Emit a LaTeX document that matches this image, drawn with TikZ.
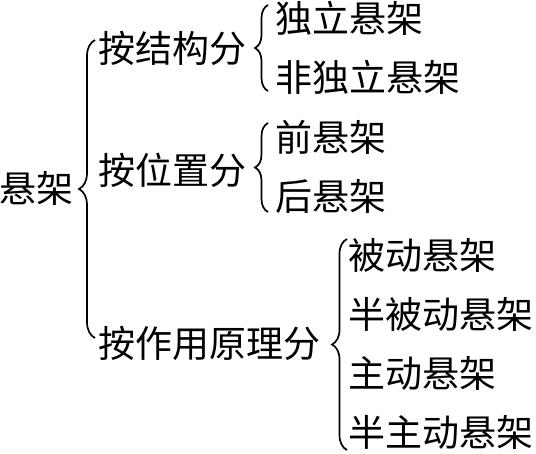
\documentclass[tikz,border=0pt]{standalone}
\usepackage{fontspec}
\newfontfamily\cjk{Noto Sans CJK SC}
\usetikzlibrary{decorations.pathreplacing}
\tikzset{
  lbl/.style={anchor=base west, inner sep=0pt, font=\cjk\fontsize{37}{37}\selectfont},
  brc/.style={draw, line width=1.7pt, decorate, decoration={brace, amplitude=#1, aspect=0.5}},
}
\begin{document}
\begin{tikzpicture}[x=1pt, y=-1pt]
\useasboundingbox (0,0) rectangle (536,453);
% text nodes (baseline = ink centre + 14)
\node[lbl] (root) at (-1,202) {悬架};
\node[lbl] (a) at (98,62) {按结构分};
\node[lbl] (b) at (98,184) {按位置分};
\node[lbl] (c) at (98,357) {按作用原理分};
\node[lbl] (a1) at (275,32) {独立悬架};
\node[lbl] (a2) at (275,91) {非独立悬架};
\node[lbl] (b1) at (275,151) {前悬架};
\node[lbl] (b2) at (275,210) {后悬架};
\node[lbl] (c1) at (348,269) {被动悬架};
\node[lbl] (c2) at (348,328) {半被动悬架};
\node[lbl] (c3) at (348,387) {主动悬架};
\node[lbl] (c4) at (348,446) {半主动悬架};
% brace end points
\coordinate (B0t) at (95,40);
\coordinate (B0b) at (95,338);
\coordinate (B1t) at (268,5);
\coordinate (B1b) at (268,91);
\coordinate (B2t) at (268,123);
\coordinate (B2b) at (268,212);
\coordinate (B3t) at (347,239);
\coordinate (B3b) at (347,450);
% braces
\path[brc=16] (B0b) -- (B0t);
\path[brc=13] (B1b) -- (B1t);
\path[brc=13] (B2b) -- (B2t);
\path[brc=15] (B3b) -- (B3t);
\end{tikzpicture}
\end{document}
